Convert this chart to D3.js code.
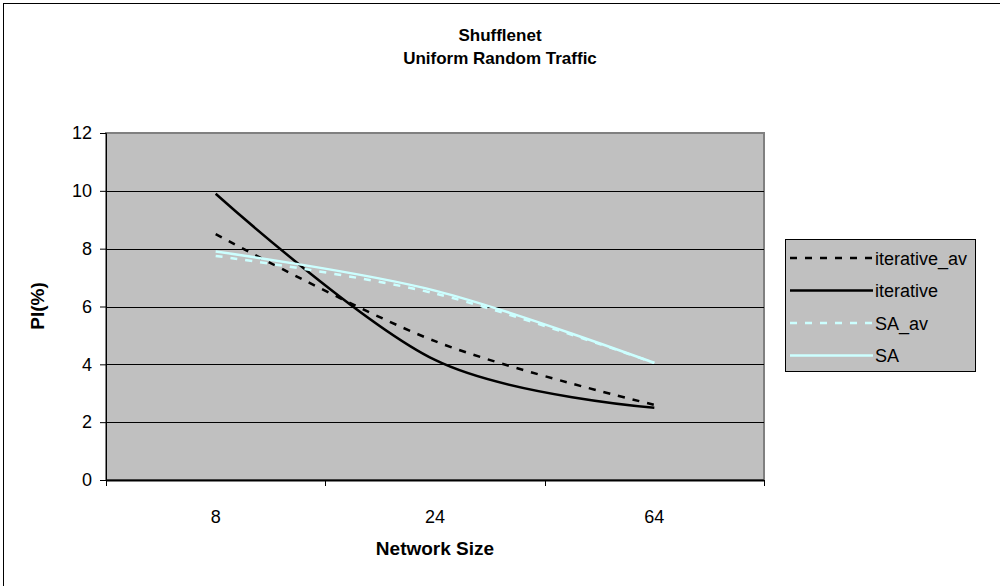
<!DOCTYPE html>
<html>
<head>
<meta charset="utf-8">
<script src="https://cdn.jsdelivr.net/npm/d3@7"></script>
<style>
  body { margin: 0; background: #fff; }
  text { font-family: "Liberation Sans", Arial, sans-serif; }
</style>
</head>
<body>
<svg id="chart" width="1000" height="586"></svg>
<script>
// chart values
var sizes = ["8", "24", "64"];
var iterativeAv = [8.5, 4.8, 2.6];
var iterative = [9.9, 4.15, 2.5];
var saAv = [7.75, 6.45, 4.05];
var sa = [7.9, 6.55, 4.05];
var yTicks = [0, 2, 4, 6, 8, 10, 12];

var series = [
  {name: "iterative_av", values: iterativeAv, color: "#000000", dash: "7,8"},
  {name: "iterative", values: iterative, color: "#000000", dash: null},
  {name: "SA_av", values: saAv, color: "#CCFFFF", dash: "7,8"},
  {name: "SA", values: sa, color: "#CCFFFF", dash: null}
];

var svg = d3.select("#chart");

// outer chart frame (cropped at right/bottom)
svg.append("rect")
  .attr("x", 3.5).attr("y", 3.5)
  .attr("width", 1000).attr("height", 600)
  .attr("fill", "#fff").attr("stroke", "#000");

var pLeft = 106, pRight = 764, pTop = 133, pBottom = 480;

var x = d3.scaleBand().domain(sizes).range([pLeft, pRight]);
var y = d3.scaleLinear().domain([0, 12]).range([pBottom, pTop]);

// plot area
svg.append("rect")
  .attr("x", pLeft).attr("y", pTop)
  .attr("width", pRight - pLeft).attr("height", pBottom - pTop)
  .attr("fill", "#C0C0C0")
  .attr("stroke", "#808080").attr("stroke-width", 2);

// gridlines
svg.append("g")
  .selectAll("line")
  .data(yTicks.slice(1, -1))
  .join("line")
    .attr("x1", pLeft).attr("x2", pRight)
    .attr("y1", d => Math.round(y(d)) + 0.5)
    .attr("y2", d => Math.round(y(d)) + 0.5)
    .attr("stroke", "#000");

// y axis
var yAxis = svg.append("g")
  .attr("transform", `translate(${pLeft},0)`)
  .call(d3.axisLeft(y).tickValues(yTicks).tickSize(6).tickPadding(8));
yAxis.select(".domain").attr("stroke", "#000");
yAxis.selectAll("line").attr("stroke", "#000");
yAxis.selectAll("text").attr("font-size", 18).attr("fill", "#000")
  .style("font-family", "Liberation Sans, Arial, sans-serif");

// x axis: ticks between categories, labels at category centres
var xg = svg.append("g");
xg.append("line")
  .attr("x1", pLeft).attr("x2", pRight)
  .attr("y1", pBottom + 0.5).attr("y2", pBottom + 0.5)
  .attr("stroke", "#000").attr("stroke-width", 2);
var bounds = sizes.map(d => x(d)).concat([x(sizes[sizes.length - 1]) + x.bandwidth()]);
xg.selectAll("line.tick")
  .data(bounds)
  .join("line")
    .attr("class", "tick")
    .attr("x1", d => Math.round(d) + 0.5).attr("x2", d => Math.round(d) + 0.5)
    .attr("y1", pBottom).attr("y2", pBottom + 6)
    .attr("stroke", "#000");
xg.selectAll("text")
  .data(sizes)
  .join("text")
    .attr("x", d => x(d) + x.bandwidth() / 2)
    .attr("y", 523)
    .attr("text-anchor", "middle")
    .attr("font-size", 18)
    .text(d => d);

// lines
var line = d3.line()
  .x((d, i) => x(sizes[i]) + x.bandwidth() / 2)
  .y(d => y(d))
  .curve(d3.curveCardinal.tension(0));

svg.append("g")
  .selectAll("path")
  .data(series)
  .join("path")
    .attr("d", d => line(d.values))
    .attr("fill", "none")
    .attr("stroke", d => d.color)
    .attr("stroke-width", 2.5)
    .attr("stroke-dasharray", d => d.dash);

// titles
svg.append("text")
  .attr("x", 500).attr("y", 41)
  .attr("text-anchor", "middle")
  .attr("font-size", 17).attr("font-weight", "bold")
  .text("Shufflenet");
svg.append("text")
  .attr("x", 500).attr("y", 64)
  .attr("text-anchor", "middle")
  .attr("font-size", 17).attr("font-weight", "bold")
  .text("Uniform Random Traffic");
svg.append("text")
  .attr("x", 435).attr("y", 555)
  .attr("text-anchor", "middle")
  .attr("font-size", 19).attr("font-weight", "bold")
  .text("Network Size");
svg.append("text")
  .attr("transform", "translate(44,306) rotate(-90)")
  .attr("text-anchor", "middle")
  .attr("font-size", 19).attr("font-weight", "bold")
  .text("PI(%)");

// legend
var lg = svg.append("g");
lg.append("rect")
  .attr("x", 785.5).attr("y", 239.5)
  .attr("width", 190).attr("height", 132)
  .attr("fill", "#C0C0C0").attr("stroke", "#000");
var rows = lg.selectAll("g.row")
  .data(series)
  .join("g")
    .attr("class", "row")
    .attr("transform", (d, i) => `translate(0,${258 + i * 32.5})`);
rows.append("line")
  .attr("x1", 790).attr("x2", 873)
  .attr("y1", 0).attr("y2", 0)
  .attr("stroke", d => d.color)
  .attr("stroke-width", 2.5)
  .attr("stroke-dasharray", d => d.dash);
rows.append("text")
  .attr("x", 875).attr("y", 6.5)
  .attr("font-size", 18)
  .text(d => d.name);
</script>
</body>
</html>
